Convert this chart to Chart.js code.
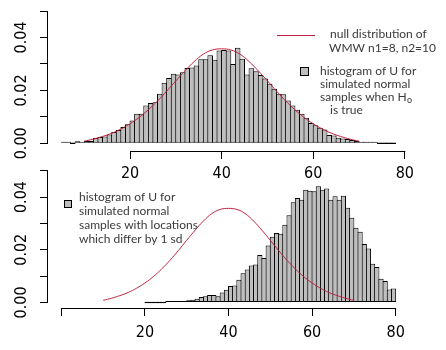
<!DOCTYPE html>
<html>
<head>
<meta charset="utf-8">
<script src="https://cdn.jsdelivr.net/npm/chart.js@4.4.1/dist/chart.umd.min.js"></script>
<style>
  body { margin: 0; background: #fff; }
  #wrap { position: relative; width: 446px; height: 350px; }
  canvas { position: absolute; left: 0; }
</style>
</head>
<body>
<div id="wrap">
  <canvas id="topChart" width="446" height="190" style="top:0"></canvas>
  <canvas id="bottomChart" width="446" height="190" style="top:160px"></canvas>
</div>
<script>
'use strict';

// histogram of U, samples when H0 is true (unit bins, left edges)
const topBins = [5, 6, 7, 8, 9, 10, 11, 12, 13, 14, 15, 16, 17, 18, 19, 20, 21, 22, 23, 24,
  25, 26, 27, 28, 29, 30, 31, 32, 33, 34, 35, 36, 37, 38, 39, 40, 41, 42, 43, 44,
  45, 46, 47, 48, 49, 50, 51, 52, 53, 54, 55, 56, 57, 58, 59, 60, 61, 62, 63, 64,
  65, 66, 67, 68, 69, 70, 71, 72, 73, 74, 75, 76, 77];
const topDensity = [0.0004, 0.0004, 0, 0.0008, 0.0003, 0.0010, 0.0009, 0.0020, 0.0024, 0.0026,
  0.0033, 0.0043, 0.0050, 0.0062, 0.0072, 0.0086, 0.0112, 0.0112, 0.0143, 0.0152,
  0.0155, 0.0187, 0.0229, 0.0247, 0.0263, 0.0260, 0.0269, 0.0285, 0.0287, 0.0294,
  0.0318, 0.0318, 0.0333, 0.0316, 0.0351, 0.0353, 0.0351, 0.0300, 0.0361, 0.0320,
  0.0260, 0.0284, 0.0272, 0.0258, 0.0245, 0.0225, 0.0206, 0.0187, 0.0185, 0.0162,
  0.0143, 0.0127, 0.0112, 0.0097, 0.0077, 0.0068, 0.0059, 0.0052, 0.0031, 0.0030,
  0.0021, 0.0018, 0.0016, 0.0013, 0.0009, 0.0005, 0.0004, 0.0004, 0.0004, 0,
  0, 0, 0];

// histogram of U, locations differ by 1 sd
const bottomBins = [20, 21, 22, 23, 24, 25, 26, 27, 28, 29, 30, 31, 32, 33, 34, 35, 36, 37, 38, 39,
  40, 41, 42, 43, 44, 45, 46, 47, 48, 49, 50, 51, 52, 53, 54, 55, 56, 57, 58, 59,
  60, 61, 62, 63, 64, 65, 66, 67, 68, 69, 70, 71, 72, 73, 74, 75, 76, 77, 78, 79];
const bottomDensity = [0, 0, 0, 0, 0, 0.0002, 0.0006, 0.0004, 0.0006, 0.0006,
  0.0008, 0.0010, 0.0014, 0.0021, 0.0024, 0.0028, 0.0028, 0.0024, 0.0038, 0.0048,
  0.0062, 0.0064, 0.0086, 0.0111, 0.0125, 0.0140, 0.0144, 0.0180, 0.0169, 0.0216,
  0.0249, 0.0264, 0.0261, 0.0295, 0.0331, 0.0380, 0.0396, 0.0390, 0.0428, 0.0424,
  0.0422, 0.0441, 0.0428, 0.0432, 0.0390, 0.0403, 0.0390, 0.0405, 0.0359, 0.0321,
  0.0283, 0.0268, 0.0222, 0.0205, 0.0147, 0.0135, 0.0090, 0.0081, 0.0049, 0.0053];

// null distribution of WMW U, n1=8, n2=10
const nullU = [10, 12, 14, 16, 18, 20, 22, 24, 26, 28, 30, 32, 34, 36, 38, 40,
  42, 44, 46, 48, 50, 52, 54, 56, 58, 60, 62, 64, 66, 68, 70];
const nullDensity = [0.0008, 0.0016, 0.0026, 0.0038, 0.0054, 0.0074, 0.0098, 0.0127, 0.0160, 0.0197,
  0.0236, 0.0274, 0.0309, 0.0337, 0.0353, 0.0357, 0.0353, 0.0337, 0.0309, 0.0274,
  0.0236, 0.0197, 0.0160, 0.0127, 0.0098, 0.0074, 0.0054, 0.0038, 0.0026, 0.0016, 0.0008];

const topXTicks = [20, 40, 60, 80];
const topXLabels = ['20', '40', '60', '80'];
const bottomXTicks = [0, 20, 40, 60, 80];
const bottomXLabels = ['', '20', '40', '60', '80'];
const yTicks = [0, 0.01, 0.02, 0.03, 0.04, 0.05];
const yLabels = ['0.00', '', '0.02', '', '0.04', ''];

const red = '#bc2440';
const gray = '#bebebe';
const axisFont = { family: "'Liberation Sans Narrow', 'DejaVu Sans Condensed', 'Liberation Sans', sans-serif", size: 16 };
const legendFont = "12px Lato, 'Open Sans', sans-serif";

// R style axis lines: only from first to last tick
const axisLines = {
  id: 'axisLines',
  afterDraw(chart) {
    const { ctx, chartArea, scales: { x, y } } = chart;
    const xt = x.ticks;
    const yt = y.ticks;
    ctx.save();
    ctx.strokeStyle = '#000';
    ctx.lineWidth = 1;
    ctx.beginPath();
    const yy = Math.round(chartArea.bottom) + 0.5;
    ctx.moveTo(x.getPixelForValue(xt[0].value), yy);
    ctx.lineTo(x.getPixelForValue(xt[xt.length - 1].value) + 0.5, yy);
    const xx = Math.round(chartArea.left) - 0.5;
    ctx.moveTo(xx, y.getPixelForValue(yt[0].value) + 0.5);
    ctx.lineTo(xx, y.getPixelForValue(yt[yt.length - 1].value));
    ctx.stroke();
    ctx.restore();
  }
};

function legendPlugin(items) {
  return {
    id: 'rLegend',
    afterDraw(chart) {
      const ctx = chart.ctx;
      ctx.save();
      ctx.font = legendFont;
      ctx.textBaseline = 'middle';
      ctx.textAlign = 'left';
      items.forEach(function (it) {
        if (it.type === 'line') {
          ctx.strokeStyle = red;
          ctx.lineWidth = 1;
          ctx.beginPath();
          ctx.moveTo(it.x1, it.y);
          ctx.lineTo(it.x2, it.y);
          ctx.stroke();
        } else if (it.type === 'box') {
          ctx.fillStyle = gray;
          ctx.strokeStyle = '#000';
          ctx.lineWidth = 1;
          ctx.fillRect(it.x, it.y, it.s, it.s);
          ctx.strokeRect(it.x, it.y, it.s, it.s);
        } else {
          ctx.fillStyle = '#3a3a3a';
          ctx.fillText(it.text, it.x, it.y);
          if (it.sub) {
            const w = ctx.measureText(it.text).width;
            ctx.font = "9px Lato, 'Open Sans', sans-serif";
            ctx.fillText(it.sub, it.x + w + 0.5, it.y + 3);
            ctx.font = legendFont;
          }
        }
      });
      ctx.restore();
    }
  };
}

function panel(canvasId, o) {
  return new Chart(document.getElementById(canvasId), {
    type: 'bar',
    data: {
      datasets: [{
        type: 'line',
        data: nullU.map((u, i) => ({ x: u, y: nullDensity[i] })),
        borderColor: red,
        borderWidth: 1,
        pointRadius: 0,
        tension: 0.4,
        order: 0
      }, {
        type: 'bar',
        data: o.bins.map((b, i) => ({ x: b + 0.5, y: o.density[i] })),
        backgroundColor: gray,
        borderColor: '#000',
        borderWidth: 1,
        borderSkipped: false,
        barPercentage: o.barPct,
        categoryPercentage: 1,
        minBarLength: 1.5,
        order: 1
      }]
    },
    options: {
      responsive: false,
      animation: false,
      layout: { padding: { left: 0, right: 37, top: 0, bottom: 0 } },
      plugins: { legend: { display: false }, tooltip: { enabled: false } },
      scales: {
        x: {
          type: 'linear',
          min: o.xMin,
          max: o.xMax,
          offset: false,
          bounds: 'data',
          afterBuildTicks: s => { s.ticks = o.xTicks.map(v => ({ value: v })); },
          afterFit: s => { s.height = o.xHeight; s.paddingLeft = 0; s.paddingRight = 0; },
          border: { display: false },
          grid: { display: true, drawOnChartArea: false, drawTicks: true, tickLength: 8, tickColor: '#000', tickWidth: 1, offset: false },
          ticks: {
            autoSkip: false, minRotation: 0, maxRotation: 0, padding: o.xPad,
            color: '#000', font: axisFont,
            callback: (v, i) => o.xLabels[i]
          }
        },
        y: {
          type: 'linear',
          min: o.yMin,
          max: o.yMax,
          bounds: 'data',
          afterBuildTicks: s => { s.ticks = yTicks.map(v => ({ value: v })); },
          afterFit: s => { s.width = 48; s.paddingTop = 0; s.paddingBottom = 0; },
          border: { display: false },
          grid: { display: true, drawOnChartArea: false, drawTicks: true, tickLength: 8, tickColor: '#000', tickWidth: 1 },
          ticks: {
            autoSkip: false, minRotation: 90, maxRotation: 90, crossAlign: 'center', padding: 2,
            color: '#000', font: axisFont,
            callback: (v, i) => yLabels[i]
          }
        }
      }
    },
    plugins: [axisLines, legendPlugin(o.legend)]
  });
}

panel('topChart', {
  bins: topBins, density: topDensity, barPct: 1.22,
  xMin: 2.08, xMax: 80.92, xTicks: topXTicks, xLabels: topXLabels, xHeight: 39, xPad: 5,
  yMin: -0.0029, yMax: 0.05416,
  legend: [
    { type: 'line', x1: 277, x2: 315, y: 35.5 },
    { text: 'null distribution of', x: 330, y: 34 },
    { text: 'WMW n1=8, n2=10', x: 329, y: 48 },
    { type: 'box', x: 300.5, y: 67.5, s: 8 },
    { text: 'histogram of U for', x: 320, y: 71 },
    { text: 'simulated normal', x: 320, y: 84 },
    { text: 'samples when H', sub: 'o', x: 320, y: 97.5 },
    { text: 'is true', x: 330, y: 110.5 }
  ]
});

panel('bottomChart', {
  bins: bottomBins, density: bottomDensity, barPct: 1.24,
  xMin: -3.2, xMax: 83.2, xTicks: bottomXTicks, xLabels: bottomXLabels, xHeight: 42, xPad: 7,
  yMin: -0.0021, yMax: 0.05405,
  legend: [
    { type: 'box', x: 64.5, y: 40.5, s: 7 },
    { text: 'histogram of U for', x: 79, y: 37 },
    { text: 'simulated normal', x: 79, y: 51 },
    { text: 'samples with locations', x: 79, y: 65 },
    { text: 'which differ by 1 sd', x: 79, y: 79 }
  ]
});
</script>
</body>
</html>
